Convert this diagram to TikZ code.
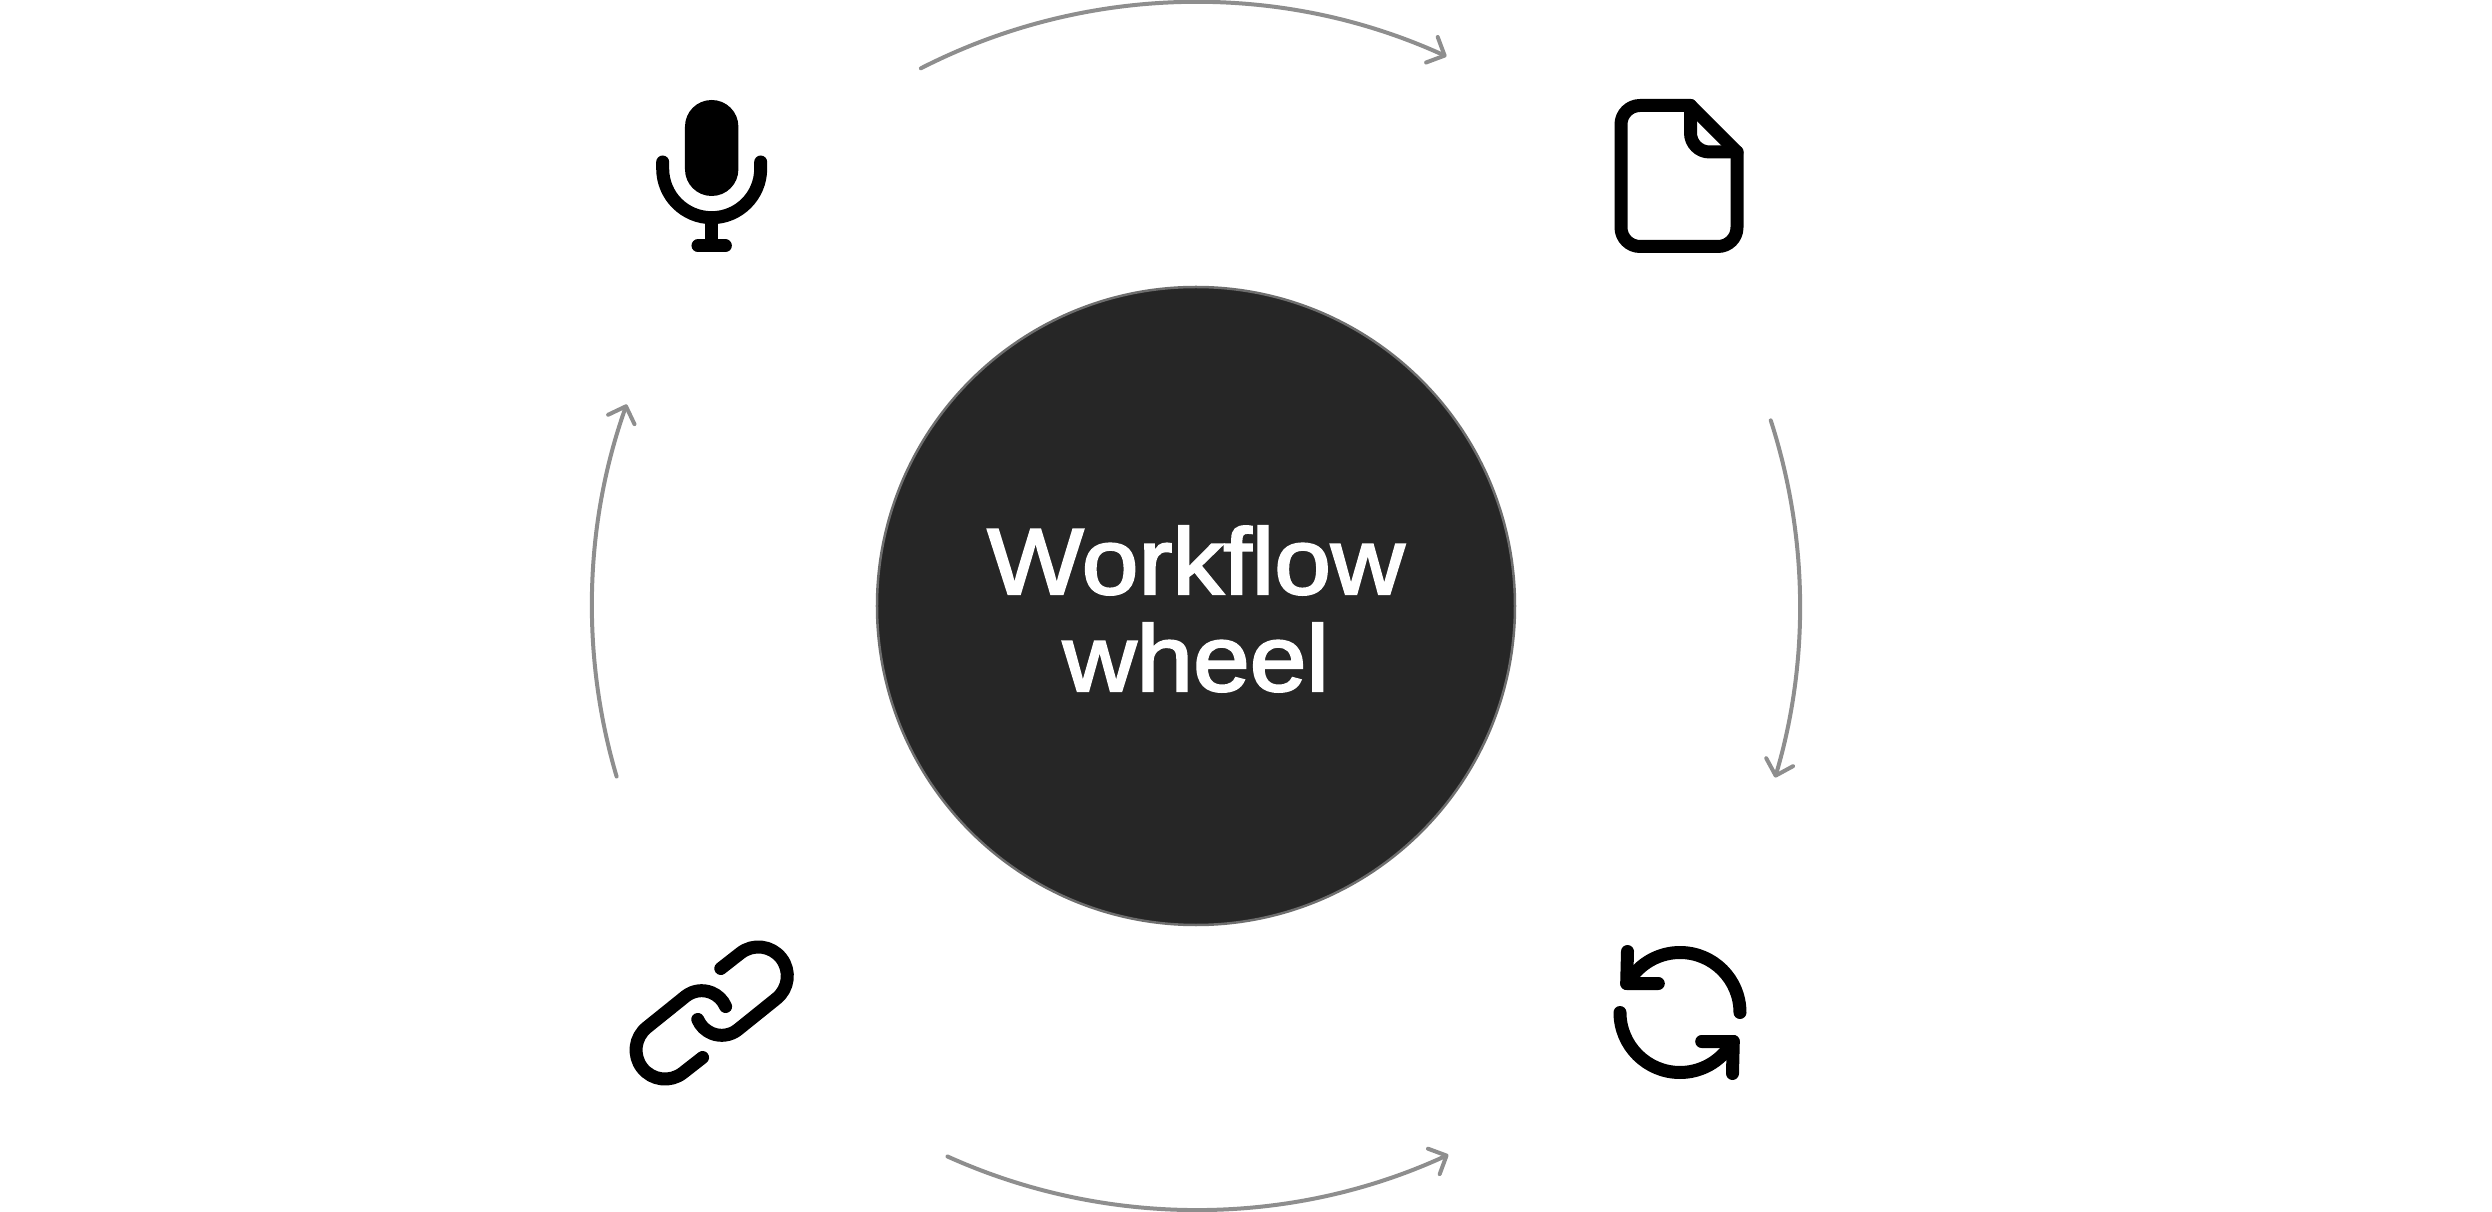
\documentclass[tikz,border=0pt]{standalone}
\usepackage{fontspec}
\usepackage{tikz}
\usetikzlibrary{arrows.meta}
\setmainfont{Liberation Sans}[FakeStretch=1.09,FakeBold=2.5]
\definecolor{wheelfill}{HTML}{262626}
\definecolor{wheeledge}{HTML}{6E6E6E}
\definecolor{flowgray}{HTML}{8E8E8E}
\tikzset{
  wheelnode/.style={circle,fill=wheelfill,draw=wheeledge,line width=2.5pt,minimum size=638pt,inner sep=0pt},
  wheeltext/.style={text=white,align=center,font=\fontsize{93.5}{97}\selectfont},
  flowarrow/.style={draw=flowgray,line width=4pt,line cap=round,-{Straight Barb[length=14pt,width=28pt,round]}},
  iconline/.style={line width=13pt,line cap=round,line join=round}
}

\begin{document}
\begin{tikzpicture}[x=1pt,y=1pt]
\useasboundingbox (-1196,-606) rectangle (1296,606);
\node[wheelnode] (wheel) at (0,0) {};
\node[wheeltext] (wheellabel) at (0,-3) {Workflow\\wheel};
% ends of the four arcs
\coordinate (topstart) at (117.1:604pt);
\coordinate (topend) at (65.5:604pt);
\coordinate (rightstart) at (17.9:604pt);
\coordinate (rightend) at (-16.5:604pt);
\coordinate (bottomstart) at (-114.3:604pt);
\coordinate (bottomend) at (-65.3:604pt);
\coordinate (leftstart) at (196.4:604pt);
\coordinate (leftend) at (160.5:604pt);
\draw[flowarrow] (topstart) to[bend left=25.8,looseness=0.896] (topend);
\draw[flowarrow] (rightstart) to[bend left=17.2,looseness=0.871] (rightend);
\draw[flowarrow] (bottomstart) to[bend right=24.5,looseness=0.89] (bottomend);
\draw[flowarrow] (leftstart) to[bend left=18,looseness=0.872] (leftend);
% icons
\coordinate (mic) at (-484.3,426);
\coordinate (file) at (483,430);
\coordinate (link) at (-484.3,-407);
\coordinate (refresh) at (484,-406.5);
\begin{scope}[shift={(mic)}]
  \fill[rounded corners=26.6pt] (-26.7,-16) rectangle (26.7,80);
  \draw[iconline] (-49,18) -- (-49,11.3) arc[start angle=180,end angle=360,radius=49pt] -- (49,18);
  \draw[line width=13pt] (0,-37.7) -- (0,-65.8);
  \draw[iconline] (-13.7,-65.8) -- (13.7,-65.8);
\end{scope}
\begin{scope}[shift={(file)}]
  \draw[iconline] (11.5,70.5) -- (-39,70.5) arc[start angle=90,end angle=180,radius=19pt] -- (-58,-51.5)
    arc[start angle=180,end angle=270,radius=19pt] -- (39,-70.5) arc[start angle=270,end angle=360,radius=19pt]
    -- (58,24) -- cycle;
  \draw[iconline] (11.5,70.5) -- (11.5,43) arc[start angle=180,end angle=270,radius=19pt] -- (58,24);
\end{scope}
\begin{scope}[shift={(link)}]
  \foreach \turn in {0,180}
    {
      \draw[iconline,rotate=\turn] (9.1,44.5) -- (28.8,59.9) arc[start angle=128,end angle=-52,radius=29pt]
        -- (26,-16.8) arc[start angle=-52,end angle=-157,radius=26pt];
    }
\end{scope}
\begin{scope}[shift={(refresh)}]
  \foreach \turn in {0,180}
    {
      \draw[iconline,rotate=\turn] (60,0) arc[start angle=0,end angle=143,radius=60pt] -- (-53.3,29);
      \draw[iconline,rotate=\turn] (-52.5,61) -- (-53.3,29) -- (-21.7,29);
    }
\end{scope}
\end{tikzpicture}
\end{document}
